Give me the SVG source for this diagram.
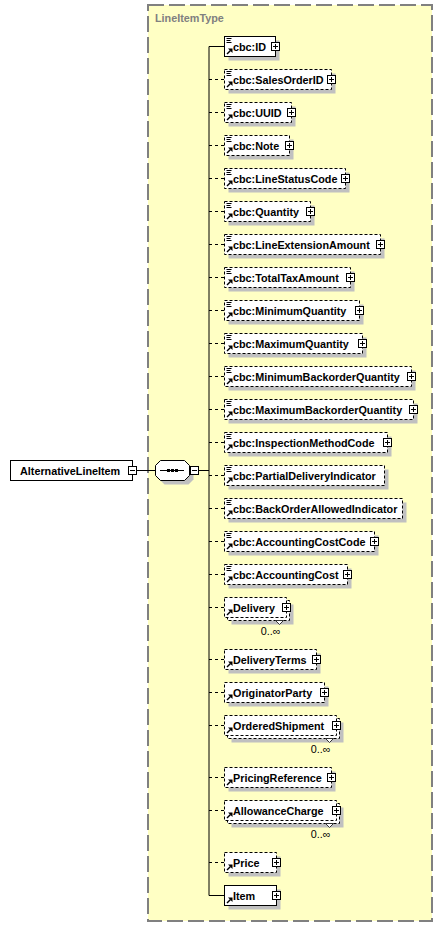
<svg xmlns="http://www.w3.org/2000/svg" xmlns:xlink="http://www.w3.org/1999/xlink" width="443" height="927" viewBox="0 0 443 927">
<style>
.box{fill:#fff;stroke:#000;stroke-width:1}
.opt{stroke-dasharray:3,2}
.sh{fill:#C0C0C0}
.lbl{font-family:"Liberation Sans",Arial,sans-serif;font-size:10.8px;font-weight:bold;fill:#000}
.occ{font-family:"Liberation Sans",Arial,sans-serif;font-size:10.8px;fill:#000;text-anchor:end}
.con{stroke:#000;stroke-width:1;fill:none}
.dash{stroke-dasharray:3,3}
.notch{fill:#fff;stroke:#333;stroke-width:1}
</style>
<defs>
<g id="lines"><path d="M2 2h5M2 4h4M2 6h5" fill="none" stroke="#000" stroke-width="1"/></g>
<g id="ref"><path d="M2.5 17.5L6 14" stroke="#000" stroke-width="1.5" fill="none"/><polygon points="8,12 8,16.5 3.5,12" fill="#000"/></g>
<g id="plus"><rect x="-4" y="-4" width="8" height="8" fill="#fff" stroke="#000" stroke-width="1"/><path d="M-2.5 0h5M0 -2.5v5" stroke="#000" stroke-width="1"/></g>
<g id="minus"><rect x="-4" y="-4" width="8" height="8" fill="#fff" stroke="#000" stroke-width="1"/><path d="M-2.5 0h5" stroke="#000" stroke-width="1"/></g>
</defs>

<g id="type-LineItemType">
<rect x="148" y="5" width="284" height="916" fill="#FFFFC4" stroke="#808080" stroke-width="2" stroke-dasharray="16,5"/>
<text x="155" y="21.5" style="font-family:'Liberation Sans',Arial,sans-serif;font-size:10.8px;font-weight:bold;fill:#808080">LineItemType</text>
</g>

<g id="connectors">
<path class="con" d="M137 470.5H155.5M199 470.5H209M209 46.5V895.5"/>
<path class="con" d="M209 46.5H224.5M209 895.5H224.5"/>
<path class="con dash" d="M209 79.5H224.5M209 112.5H224.5M209 145.5H224.5M209 178.5H224.5M209 211.5H224.5M209 244.5H224.5M209 277.5H224.5M209 310.5H224.5M209 343.5H224.5M209 376.5H224.5M209 409.5H224.5M209 442.5H224.5M209 475.5H224.5M209 508.5H224.5M209 541.5H224.5M209 574.5H224.5M209 607.5H224.5M209 659.5H224.5M209 692.5H224.5M209 725.5H224.5M209 777.5H224.5M209 810.5H224.5M209 862.5H224.5"/>
</g>

<g id="n-AlternativeLineItem">
<rect class="box" x="10.5" y="460.5" width="122" height="20"/>
<text class="lbl" x="20" y="474.5">AlternativeLineItem</text>
<use xlink:href="#minus" x="132.5" y="470.5"/>
</g>

<g id="n-sequence">
<polygon class="sh" points="164.5,464.5 188.5,464.5 193.5,469.5 193.5,479.5 188.5,484.5 164.5,484.5 159.5,479.5 159.5,469.5"/>
<polygon class="box" points="160.5,460.5 184.5,460.5 189.5,465.5 189.5,475.5 184.5,480.5 160.5,480.5 155.5,475.5 155.5,465.5"/>
<path d="M160 470.5H184" stroke="#000" stroke-width="1"/>
<rect x="167" y="469" width="3" height="3" fill="#000"/>
<rect x="171" y="469" width="3" height="3" fill="#000"/>
<rect x="175" y="469" width="3" height="3" fill="#000"/>
<use xlink:href="#minus" x="194.5" y="470.5"/>
</g>

<g id="n-cbc-ID">
<rect class="sh" x="228.5" y="40.5" width="51" height="20"/>
<rect class="box" x="224.5" y="36.5" width="51" height="20"/>
<use xlink:href="#lines" x="224.5" y="36.5"/><use xlink:href="#ref" x="224.5" y="36.5"/>
<text class="lbl" x="233" y="50.5">cbc:ID</text>
<use xlink:href="#plus" x="275.5" y="46.5"/>
</g>

<g id="n-cbc-SalesOrderID">
<rect class="sh" x="228.5" y="73.5" width="107" height="20"/>
<rect class="box opt" x="224.5" y="69.5" width="107" height="20"/>
<use xlink:href="#lines" x="224.5" y="69.5"/><use xlink:href="#ref" x="224.5" y="69.5"/>
<text class="lbl" x="233" y="83.5">cbc:SalesOrderID</text>
<use xlink:href="#plus" x="331.5" y="79.5"/>
</g>

<g id="n-cbc-UUID">
<rect class="sh" x="228.5" y="106.5" width="67" height="20"/>
<rect class="box opt" x="224.5" y="102.5" width="67" height="20"/>
<use xlink:href="#lines" x="224.5" y="102.5"/><use xlink:href="#ref" x="224.5" y="102.5"/>
<text class="lbl" x="233" y="116.5">cbc:UUID</text>
<use xlink:href="#plus" x="291.5" y="112.5"/>
</g>

<g id="n-cbc-Note">
<rect class="sh" x="228.5" y="139.5" width="65" height="20"/>
<rect class="box opt" x="224.5" y="135.5" width="65" height="20"/>
<use xlink:href="#lines" x="224.5" y="135.5"/><use xlink:href="#ref" x="224.5" y="135.5"/>
<text class="lbl" x="233" y="149.5">cbc:Note</text>
<use xlink:href="#plus" x="289.5" y="145.5"/>
</g>

<g id="n-cbc-LineStatusCode">
<rect class="sh" x="228.5" y="172.5" width="121" height="20"/>
<rect class="box opt" x="224.5" y="168.5" width="121" height="20"/>
<use xlink:href="#lines" x="224.5" y="168.5"/><use xlink:href="#ref" x="224.5" y="168.5"/>
<text class="lbl" x="233" y="182.5">cbc:LineStatusCode</text>
<use xlink:href="#plus" x="345.5" y="178.5"/>
</g>

<g id="n-cbc-Quantity">
<rect class="sh" x="228.5" y="205.5" width="86" height="20"/>
<rect class="box opt" x="224.5" y="201.5" width="86" height="20"/>
<use xlink:href="#lines" x="224.5" y="201.5"/><use xlink:href="#ref" x="224.5" y="201.5"/>
<text class="lbl" x="233" y="215.5">cbc:Quantity</text>
<use xlink:href="#plus" x="310.5" y="211.5"/>
</g>

<g id="n-cbc-LineExtensionAmount">
<rect class="sh" x="228.5" y="238.5" width="156" height="20"/>
<rect class="box opt" x="224.5" y="234.5" width="156" height="20"/>
<use xlink:href="#lines" x="224.5" y="234.5"/><use xlink:href="#ref" x="224.5" y="234.5"/>
<text class="lbl" x="233" y="248.5">cbc:LineExtensionAmount</text>
<use xlink:href="#plus" x="380.5" y="244.5"/>
</g>

<g id="n-cbc-TotalTaxAmount">
<rect class="sh" x="228.5" y="271.5" width="126" height="20"/>
<rect class="box opt" x="224.5" y="267.5" width="126" height="20"/>
<use xlink:href="#lines" x="224.5" y="267.5"/><use xlink:href="#ref" x="224.5" y="267.5"/>
<text class="lbl" x="233" y="281.5">cbc:TotalTaxAmount</text>
<use xlink:href="#plus" x="350.5" y="277.5"/>
</g>

<g id="n-cbc-MinimumQuantity">
<rect class="sh" x="228.5" y="304.5" width="135" height="20"/>
<rect class="box opt" x="224.5" y="300.5" width="135" height="20"/>
<use xlink:href="#lines" x="224.5" y="300.5"/><use xlink:href="#ref" x="224.5" y="300.5"/>
<text class="lbl" x="233" y="314.5">cbc:MinimumQuantity</text>
<use xlink:href="#plus" x="359.5" y="310.5"/>
</g>

<g id="n-cbc-MaximumQuantity">
<rect class="sh" x="228.5" y="337.5" width="138" height="20"/>
<rect class="box opt" x="224.5" y="333.5" width="138" height="20"/>
<use xlink:href="#lines" x="224.5" y="333.5"/><use xlink:href="#ref" x="224.5" y="333.5"/>
<text class="lbl" x="233" y="347.5">cbc:MaximumQuantity</text>
<use xlink:href="#plus" x="362.5" y="343.5"/>
</g>

<g id="n-cbc-MinimumBackorderQuantity">
<rect class="sh" x="228.5" y="370.5" width="187" height="20"/>
<rect class="box opt" x="224.5" y="366.5" width="187" height="20"/>
<use xlink:href="#lines" x="224.5" y="366.5"/><use xlink:href="#ref" x="224.5" y="366.5"/>
<text class="lbl" x="233" y="380.5">cbc:MinimumBackorderQuantity</text>
<use xlink:href="#plus" x="411.5" y="376.5"/>
</g>

<g id="n-cbc-MaximumBackorderQuantity">
<rect class="sh" x="228.5" y="403.5" width="189" height="20"/>
<rect class="box opt" x="224.5" y="399.5" width="189" height="20"/>
<use xlink:href="#lines" x="224.5" y="399.5"/><use xlink:href="#ref" x="224.5" y="399.5"/>
<text class="lbl" x="233" y="413.5">cbc:MaximumBackorderQuantity</text>
<use xlink:href="#plus" x="413.5" y="409.5"/>
</g>

<g id="n-cbc-InspectionMethodCode">
<rect class="sh" x="228.5" y="436.5" width="163" height="20"/>
<rect class="box opt" x="224.5" y="432.5" width="163" height="20"/>
<use xlink:href="#lines" x="224.5" y="432.5"/><use xlink:href="#ref" x="224.5" y="432.5"/>
<text class="lbl" x="233" y="446.5">cbc:InspectionMethodCode</text>
<use xlink:href="#plus" x="387.5" y="442.5"/>
</g>

<g id="n-cbc-PartialDeliveryIndicator">
<rect class="sh" x="228.5" y="469.5" width="160" height="20"/>
<rect class="box opt" x="224.5" y="465.5" width="160" height="20"/>
<use xlink:href="#lines" x="224.5" y="465.5"/><use xlink:href="#ref" x="224.5" y="465.5"/>
<text class="lbl" x="233" y="479.5">cbc:PartialDeliveryIndicator</text>
</g>

<g id="n-cbc-BackOrderAllowedIndicator">
<rect class="sh" x="228.5" y="502.5" width="178" height="20"/>
<rect class="box opt" x="224.5" y="498.5" width="178" height="20"/>
<use xlink:href="#lines" x="224.5" y="498.5"/><use xlink:href="#ref" x="224.5" y="498.5"/>
<text class="lbl" x="233" y="512.5">cbc:BackOrderAllowedIndicator</text>
</g>

<g id="n-cbc-AccountingCostCode">
<rect class="sh" x="228.5" y="535.5" width="150" height="20"/>
<rect class="box opt" x="224.5" y="531.5" width="150" height="20"/>
<use xlink:href="#lines" x="224.5" y="531.5"/><use xlink:href="#ref" x="224.5" y="531.5"/>
<text class="lbl" x="233" y="545.5">cbc:AccountingCostCode</text>
<use xlink:href="#plus" x="374.5" y="541.5"/>
</g>

<g id="n-cbc-AccountingCost">
<rect class="sh" x="228.5" y="568.5" width="123" height="20"/>
<rect class="box opt" x="224.5" y="564.5" width="123" height="20"/>
<use xlink:href="#lines" x="224.5" y="564.5"/><use xlink:href="#ref" x="224.5" y="564.5"/>
<text class="lbl" x="233" y="578.5">cbc:AccountingCost</text>
<use xlink:href="#plus" x="347.5" y="574.5"/>
</g>

<g id="n-Delivery">
<rect class="sh" x="231.5" y="604.5" width="62" height="20"/>
<rect class="box opt" x="227.5" y="600.5" width="62" height="20"/>
<polygon class="notch" points="275.5,620.5 279.5,624.5 283.5,620.5"/>
<rect class="box opt" x="224.5" y="597.5" width="62" height="20"/>
<use xlink:href="#ref" x="224.5" y="597.5"/>
<text class="lbl" x="233" y="611.5">Delivery</text>
<use xlink:href="#plus" x="286.5" y="607.5"/>
<text class="occ" x="280.5" y="635">0..∞</text>
</g>

<g id="n-DeliveryTerms">
<rect class="sh" x="228.5" y="653.5" width="92" height="20"/>
<rect class="box opt" x="224.5" y="649.5" width="92" height="20"/>
<use xlink:href="#ref" x="224.5" y="649.5"/>
<text class="lbl" x="233" y="663.5">DeliveryTerms</text>
<use xlink:href="#plus" x="316.5" y="659.5"/>
</g>

<g id="n-OriginatorParty">
<rect class="sh" x="228.5" y="686.5" width="100" height="20"/>
<rect class="box opt" x="224.5" y="682.5" width="100" height="20"/>
<use xlink:href="#ref" x="224.5" y="682.5"/>
<text class="lbl" x="233" y="696.5">OriginatorParty</text>
<use xlink:href="#plus" x="324.5" y="692.5"/>
</g>

<g id="n-OrderedShipment">
<rect class="sh" x="231.5" y="722.5" width="112" height="20"/>
<rect class="box opt" x="227.5" y="718.5" width="112" height="20"/>
<polygon class="notch" points="325.5,738.5 329.5,742.5 333.5,738.5"/>
<rect class="box opt" x="224.5" y="715.5" width="112" height="20"/>
<use xlink:href="#ref" x="224.5" y="715.5"/>
<text class="lbl" x="233" y="729.5">OrderedShipment</text>
<use xlink:href="#plus" x="336.5" y="725.5"/>
<text class="occ" x="330.5" y="753">0..∞</text>
</g>

<g id="n-PricingReference">
<rect class="sh" x="228.5" y="771.5" width="107" height="20"/>
<rect class="box opt" x="224.5" y="767.5" width="107" height="20"/>
<use xlink:href="#ref" x="224.5" y="767.5"/>
<text class="lbl" x="233" y="781.5">PricingReference</text>
<use xlink:href="#plus" x="331.5" y="777.5"/>
</g>

<g id="n-AllowanceCharge">
<rect class="sh" x="231.5" y="807.5" width="112" height="20"/>
<rect class="box opt" x="227.5" y="803.5" width="112" height="20"/>
<polygon class="notch" points="325.5,823.5 329.5,827.5 333.5,823.5"/>
<rect class="box opt" x="224.5" y="800.5" width="112" height="20"/>
<use xlink:href="#ref" x="224.5" y="800.5"/>
<text class="lbl" x="233" y="814.5">AllowanceCharge</text>
<use xlink:href="#plus" x="336.5" y="810.5"/>
<text class="occ" x="330.5" y="838">0..∞</text>
</g>

<g id="n-Price">
<rect class="sh" x="228.5" y="856.5" width="52" height="20"/>
<rect class="box opt" x="224.5" y="852.5" width="52" height="20"/>
<use xlink:href="#ref" x="224.5" y="852.5"/>
<text class="lbl" x="233" y="866.5">Price</text>
<use xlink:href="#plus" x="276.5" y="862.5"/>
</g>

<g id="n-Item">
<rect class="sh" x="228.5" y="889.5" width="52" height="20"/>
<rect class="box" x="224.5" y="885.5" width="52" height="20"/>
<use xlink:href="#ref" x="224.5" y="885.5"/>
<text class="lbl" x="233" y="899.5">Item</text>
<use xlink:href="#plus" x="276.5" y="895.5"/>
</g>
</svg>
